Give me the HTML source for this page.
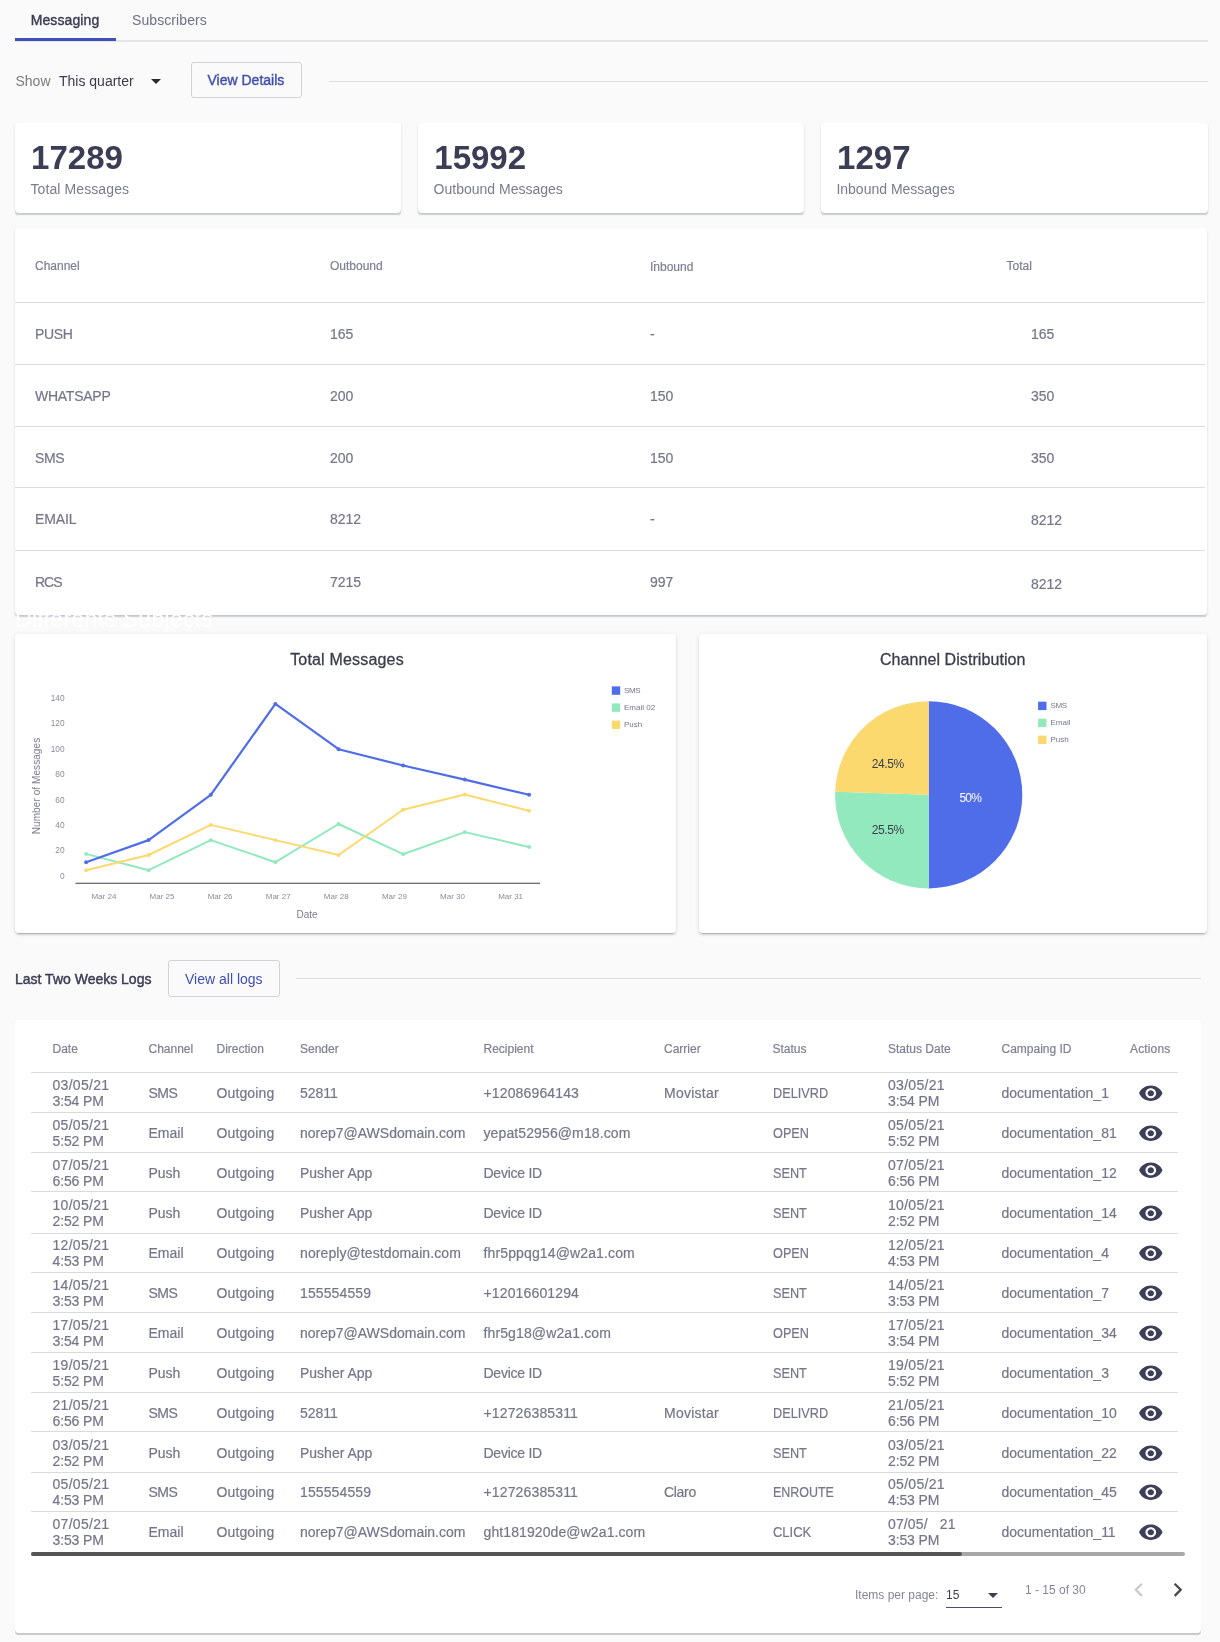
<!DOCTYPE html>
<html><head><meta charset="utf-8"><title>Messaging</title>
<style>
*{box-sizing:border-box;margin:0;padding:0}
html,body{width:1220px;height:1642px;overflow:hidden;background:#fafafa}
#root{position:absolute;left:0;top:0;width:1220px;height:1642px;will-change:transform}
body{font-family:"Liberation Sans",sans-serif;position:relative;color:#3b3d4c}
.t{position:absolute;white-space:nowrap;line-height:20px;margin-top:-10px;font-size:14px}
.hl{position:absolute}
.tab{font-size:14px;color:#6e7086;letter-spacing:-0.1px}
.tab.on{color:#3a3c55;-webkit-text-stroke:0.4px #3a3c55;letter-spacing:0}
.f14{font-size:14px}
.gray{color:#7b7b80}
.gray2{color:#797b8f}
.dark{color:#3a3c4e}
.tri{position:absolute;width:0;height:0;border-left:5px solid transparent;border-right:5px solid transparent;border-top:5px solid #2a2a2a}
.btn{position:absolute;background:transparent;border:1px solid #d2d2d6;border-radius:3px}
.btxt{font-size:14px;color:#3f4fb0;-webkit-text-stroke:0.4px #3f4fb0}
.card{position:absolute;background:#fff;border-radius:4px;box-shadow:0 1.6px 1.2px -0.4px rgba(60,66,90,.21),0 1px 3px 0 rgba(0,0,0,.09)}
.big{font-size:33px;font-weight:bold;color:#3b3d55;line-height:36px;margin-top:-18px;letter-spacing:0}
.th{font-size:12px;color:#7d7f93;-webkit-text-stroke:0.2px #7d7f93}
.td{font-size:14px;color:#74768a;-webkit-text-stroke:0.2px #74768a}

.ctitle{font-size:16px;color:#3b3d4c;-webkit-text-stroke:0.3px #3b3d4c}
.ax{font-size:8.3px;color:#8a8b9c;line-height:10px;margin-top:-5px}
.axt{font-size:10px;color:#7b7d91;line-height:12px;margin-top:-6px}
.lg{font-size:8px;color:#74768a;line-height:10px;margin-top:-5px}
.pl{font-size:12px;color:#3b3d4c;line-height:14px;margin-top:-7px}

.sect{font-size:14px;color:#3b3d55;-webkit-text-stroke:0.45px #3b3d55}
.btxt2{font-size:14px;color:#3f4fb5}
.card2{position:absolute;background:#fff;border-radius:4px;box-shadow:0 1.8px 0.8px -0.2px rgba(0,0,0,.2)}
.ld{font-size:14px;color:#74768a;-webkit-text-stroke:0.2px #74768a;line-height:16px;margin-top:-8px}
.pg{font-size:12px;color:#85869a;line-height:14px;margin-top:-7px}

.z2{box-shadow:0 3px 1px -2px rgba(0,0,0,.16),0 2px 2px 0 rgba(0,0,0,.11),0 1px 5px 0 rgba(0,0,0,.10)}

.axx{font-size:8px}

.ghost{position:absolute;color:#fff;white-space:nowrap;line-height:30px;letter-spacing:0.3px}
</style></head>
<body>
<div id="root">
<div class="hl" style="left:15px;top:40px;width:1193px;height:1.8px;background:#e5e5e5"></div>
<div class="hl" style="left:14.5px;top:38.4px;width:101.3px;height:2.6px;background:#4051b5"></div>
<div class="t tab on" style="left:30.7px;top:20.1px;letter-spacing:0.111px;">Messaging</div>
<div class="t tab" style="left:132px;top:20.1px;letter-spacing:0.091px;">Subscribers</div>
<div class="t f14 gray" style="left:15.5px;top:81px;">Show</div>
<div class="t f14 dark" style="left:59px;top:81px;">This quarter</div>
<div class="tri" style="left:150.5px;top:79px"></div>
<div class="btn" style="left:190.8px;top:61.7px;width:111px;height:36px"></div>
<div class="t btxt" style="left:207.5px;top:80px;">View Details</div>
<div class="hl" style="left:329px;top:80.8px;width:879px;height:1.2px;background:#dddddd"></div>
<div class="card" style="left:14.5px;top:123px;width:386.7px;height:90px"></div>
<div class="t big" style="left:31.1px;top:157.5px;">17289</div>
<div class="t f14 gray2" style="left:30.4px;top:189.1px;letter-spacing:0.107px;">Total Messages</div>
<div class="card" style="left:417.7px;top:123px;width:386.7px;height:90px"></div>
<div class="t big" style="left:434.3px;top:157.5px;">15992</div>
<div class="t f14 gray2" style="left:433.59999999999997px;top:189.1px;">Outbound Messages</div>
<div class="card" style="left:820.5px;top:123px;width:387px;height:90px"></div>
<div class="t big" style="left:837.1px;top:157.5px;">1297</div>
<div class="t f14 gray2" style="left:836.4px;top:189.1px;">Inbound Messages</div>
<div class="card" style="left:14.5px;top:227.6px;width:1192.7px;height:387px"></div>
<div class="t th" style="left:35px;top:265.5px;">Channel</div>
<div class="t th" style="left:330px;top:265.5px;">Outbound</div>
<div class="t th" style="left:650px;top:266.5px;">Inbound</div>
<div class="t th" style="left:1006.5px;top:265.5px;">Total</div>
<div class="hl" style="left:15px;top:301.9px;width:1189.5px;height:1px;background:#dcdcde"></div>
<div class="hl" style="left:15px;top:364.0px;width:1189.5px;height:1px;background:#dcdcde"></div>
<div class="hl" style="left:15px;top:426.1px;width:1189.5px;height:1px;background:#dcdcde"></div>
<div class="hl" style="left:15px;top:487.0px;width:1189.5px;height:1px;background:#dcdcde"></div>
<div class="hl" style="left:15px;top:550.2px;width:1189.5px;height:1px;background:#dcdcde"></div>
<div class="t td" style="left:35px;top:334.4px;letter-spacing:-0.350px;">PUSH</div>
<div class="t td" style="left:330px;top:334.4px;">165</div>
<div class="t td" style="left:650px;top:334.4px;">-</div>
<div class="t td" style="left:1031px;top:334.4px;">165</div>
<div class="t td" style="left:35px;top:396.4px;letter-spacing:-0.250px;">WHATSAPP</div>
<div class="t td" style="left:330px;top:396.4px;">200</div>
<div class="t td" style="left:650px;top:396.4px;">150</div>
<div class="t td" style="left:1031px;top:396.4px;">350</div>
<div class="t td" style="left:35px;top:457.9px;letter-spacing:-0.333px;">SMS</div>
<div class="t td" style="left:330px;top:457.9px;">200</div>
<div class="t td" style="left:650px;top:457.9px;">150</div>
<div class="t td" style="left:1031px;top:457.9px;">350</div>
<div class="t td" style="left:35px;top:518.8px;letter-spacing:-0.120px;">EMAIL</div>
<div class="t td" style="left:330px;top:518.8px;">8212</div>
<div class="t td" style="left:650px;top:518.8px;">-</div>
<div class="t td" style="left:1031px;top:520.3px;">8212</div>
<div class="t td" style="left:35px;top:582.2px;letter-spacing:-1.000px;">RCS</div>
<div class="t td" style="left:330px;top:582.2px;">7215</div>
<div class="t td" style="left:650px;top:582.2px;">997</div>
<div class="t td" style="left:1031px;top:583.7px;">8212</div>
<div class="ghost" style="left:15px;top:604px;font-size:23px">Differents Subjects</div>
<div class="hl" style="left:652.6px;top:261.2px;width:3.6px;height:0.7px;background:#9a9bac"></div>
<div class="card z2" style="left:14.6px;top:634px;width:661.4px;height:299px"></div>
<div class="t ctitle" style="left:347px;top:660.3px;letter-spacing:0.179px;transform:translateX(-50%);">Total Messages</div>
<div class="card z2" style="left:698.6px;top:634px;width:508.8px;height:299px"></div>
<div class="t ctitle" style="left:952.7px;top:660.3px;letter-spacing:0.075px;transform:translateX(-50%);">Channel Distribution</div>
<svg class="svg" width="1220" height="1642" viewBox="0 0 1220 1642" style="position:absolute;left:0;top:0">
<polyline points="86.1,853.9 148.6,870.2 210.8,840.1 275.4,862.2 338.6,824.0 403.1,854.2 464.8,832.1 529.1,847.0" fill="none" stroke="#91e9bd" stroke-width="2.0" stroke-linejoin="round" stroke-linecap="round"/>
<circle cx="86.1" cy="853.9" r="1.9" fill="#91e9bd"/>
<circle cx="148.6" cy="870.2" r="1.9" fill="#91e9bd"/>
<circle cx="210.8" cy="840.1" r="1.9" fill="#91e9bd"/>
<circle cx="275.4" cy="862.2" r="1.9" fill="#91e9bd"/>
<circle cx="338.6" cy="824.0" r="1.9" fill="#91e9bd"/>
<circle cx="403.1" cy="854.2" r="1.9" fill="#91e9bd"/>
<circle cx="464.8" cy="832.1" r="1.9" fill="#91e9bd"/>
<circle cx="529.1" cy="847.0" r="1.9" fill="#91e9bd"/>
<polyline points="86.1,870.2 148.6,855.0 210.8,824.9 275.4,840.1 338.6,855.0 403.1,809.7 464.8,794.5 529.1,810.8" fill="none" stroke="#fbd96f" stroke-width="2.0" stroke-linejoin="round" stroke-linecap="round"/>
<circle cx="86.1" cy="870.2" r="1.9" fill="#fbd96f"/>
<circle cx="148.6" cy="855.0" r="1.9" fill="#fbd96f"/>
<circle cx="210.8" cy="824.9" r="1.9" fill="#fbd96f"/>
<circle cx="275.4" cy="840.1" r="1.9" fill="#fbd96f"/>
<circle cx="338.6" cy="855.0" r="1.9" fill="#fbd96f"/>
<circle cx="403.1" cy="809.7" r="1.9" fill="#fbd96f"/>
<circle cx="464.8" cy="794.5" r="1.9" fill="#fbd96f"/>
<circle cx="529.1" cy="810.8" r="1.9" fill="#fbd96f"/>
<polyline points="86.1,862.2 148.6,840.1 210.8,794.8 275.4,703.9 338.6,749.2 403.1,765.5 464.8,779.6 529.1,794.8" fill="none" stroke="#4f6de8" stroke-width="2.2" stroke-linejoin="round" stroke-linecap="round"/>
<circle cx="86.1" cy="862.2" r="2.0" fill="#4f6de8"/>
<circle cx="148.6" cy="840.1" r="2.0" fill="#4f6de8"/>
<circle cx="210.8" cy="794.8" r="2.0" fill="#4f6de8"/>
<circle cx="275.4" cy="703.9" r="2.0" fill="#4f6de8"/>
<circle cx="338.6" cy="749.2" r="2.0" fill="#4f6de8"/>
<circle cx="403.1" cy="765.5" r="2.0" fill="#4f6de8"/>
<circle cx="464.8" cy="779.6" r="2.0" fill="#4f6de8"/>
<circle cx="529.1" cy="794.8" r="2.0" fill="#4f6de8"/>
<line x1="75.5" y1="883.3" x2="540" y2="883.3" stroke="#3b3d55" stroke-width="1.1"/>
<rect x="611.8" y="686.4" width="8.4" height="8.4" fill="#4f6de8"/>
<rect x="611.8" y="703.4" width="8.4" height="8.4" fill="#91e9bd"/>
<rect x="611.8" y="720.5999999999999" width="8.4" height="8.4" fill="#fbd96f"/>
<path d="M928.7,794.8 L928.70,701.20 A93.6,93.6 0 0 1 928.70,888.40 Z" fill="#4f6de8"/>
<path d="M928.7,794.8 L928.70,888.40 A93.6,93.6 0 0 1 835.15,791.86 Z" fill="#91e9bd"/>
<path d="M928.7,794.8 L835.15,791.86 A93.6,93.6 0 0 1 928.70,701.20 Z" fill="#fbd96f"/>
<rect x="1038.1" y="701.6999999999999" width="8.4" height="8.4" fill="#4f6de8"/>
<rect x="1038.1" y="718.6999999999999" width="8.4" height="8.4" fill="#91e9bd"/>
<rect x="1038.1" y="735.5999999999999" width="8.4" height="8.4" fill="#fbd96f"/>
</svg>
<div class="t ax" style="left:0px;top:697.7px;width:64.5px;text-align:right;">140</div>
<div class="t ax" style="left:0px;top:723.1571428571428px;width:64.5px;text-align:right;">120</div>
<div class="t ax" style="left:0px;top:748.6142857142858px;width:64.5px;text-align:right;">100</div>
<div class="t ax" style="left:0px;top:774.0714285714286px;width:64.5px;text-align:right;">80</div>
<div class="t ax" style="left:0px;top:799.5285714285715px;width:64.5px;text-align:right;">60</div>
<div class="t ax" style="left:0px;top:824.9857142857143px;width:64.5px;text-align:right;">40</div>
<div class="t ax" style="left:0px;top:850.4428571428571px;width:64.5px;text-align:right;">20</div>
<div class="t ax" style="left:0px;top:875.9px;width:64.5px;text-align:right;">0</div>
<div class="t ax axx" style="left:103.9px;top:896.8px;transform:translateX(-50%);">Mar 24</div>
<div class="t ax axx" style="left:162.0px;top:896.8px;transform:translateX(-50%);">Mar 25</div>
<div class="t ax axx" style="left:220.10000000000002px;top:896.8px;transform:translateX(-50%);">Mar 26</div>
<div class="t ax axx" style="left:278.20000000000005px;top:896.8px;transform:translateX(-50%);">Mar 27</div>
<div class="t ax axx" style="left:336.3px;top:896.8px;transform:translateX(-50%);">Mar 28</div>
<div class="t ax axx" style="left:394.4px;top:896.8px;transform:translateX(-50%);">Mar 29</div>
<div class="t ax axx" style="left:452.5px;top:896.8px;transform:translateX(-50%);">Mar 30</div>
<div class="t ax axx" style="left:510.6px;top:896.8px;transform:translateX(-50%);">Mar 31</div>
<div class="t axt" style="left:307px;top:914.7px;transform:translateX(-50%);">Date</div>
<div class="t axt" style="left:36.5px;top:786px;letter-spacing:0.078px;transform:translate(-50%,0) rotate(-90deg);">Number of Messages</div>
<div class="t lg" style="left:624px;top:690.6px;letter-spacing:-0.333px;">SMS</div>
<div class="t lg" style="left:624px;top:707.6px;">Email 02</div>
<div class="t lg" style="left:624px;top:724.8px;">Push</div>
<div class="t lg" style="left:1050.5px;top:705.9px;letter-spacing:-0.333px;">SMS</div>
<div class="t lg" style="left:1050.5px;top:722.9px;">Email</div>
<div class="t lg" style="left:1050.5px;top:739.8px;">Push</div>
<div class="t pl" style="left:887.8px;top:764px;letter-spacing:-0.420px;transform:translateX(-50%);">24.5%</div>
<div class="t pl" style="left:887.8px;top:830px;letter-spacing:-0.420px;transform:translateX(-50%);">25.5%</div>
<div class="t pl" style="left:970.3px;top:798px;letter-spacing:-0.800px;transform:translateX(-50%);color:#fff;">50%</div>
<div class="t sect" style="left:15px;top:978.5px;">Last Two Weeks Logs</div>
<div class="btn" style="left:168.3px;top:960.4px;width:111.4px;height:36.2px"></div>
<div class="t btxt2" style="left:185px;top:978.5px;">View all logs</div>
<div class="hl" style="left:296px;top:978px;width:905px;height:1px;background:#dcdcdc"></div>
<div class="card2" style="left:15px;top:1020px;width:1186px;height:613px"></div>
<div class="t th" style="left:52.5px;top:1048.5px;">Date</div>
<div class="t th" style="left:148.5px;top:1048.5px;">Channel</div>
<div class="t th" style="left:216.5px;top:1048.5px;">Direction</div>
<div class="t th" style="left:300px;top:1048.5px;">Sender</div>
<div class="t th" style="left:483.5px;top:1048.5px;">Recipient</div>
<div class="t th" style="left:664px;top:1048.5px;">Carrier</div>
<div class="t th" style="left:772.5px;top:1048.5px;">Status</div>
<div class="t th" style="left:888px;top:1048.5px;">Status Date</div>
<div class="t th" style="left:1001.5px;top:1048.5px;">Campaing ID</div>
<div class="t th" style="left:1130px;top:1048.5px;letter-spacing:0.143px;">Actions</div>
<div class="hl" style="left:31px;top:1071.9px;width:1147px;height:1px;background:#dadada"></div>
<div class="hl" style="left:31px;top:1111.8px;width:1147px;height:1px;background:#dadada"></div>
<div class="hl" style="left:31px;top:1152.1px;width:1147px;height:1px;background:#dadada"></div>
<div class="hl" style="left:31px;top:1191.3px;width:1147px;height:1px;background:#dadada"></div>
<div class="hl" style="left:31px;top:1232.9px;width:1147px;height:1px;background:#dadada"></div>
<div class="hl" style="left:31px;top:1272.2px;width:1147px;height:1px;background:#dadada"></div>
<div class="hl" style="left:31px;top:1311.7px;width:1147px;height:1px;background:#dadada"></div>
<div class="hl" style="left:31px;top:1351.8px;width:1147px;height:1px;background:#dadada"></div>
<div class="hl" style="left:31px;top:1392.1px;width:1147px;height:1px;background:#dadada"></div>
<div class="hl" style="left:31px;top:1431.4px;width:1147px;height:1px;background:#dadada"></div>
<div class="hl" style="left:31px;top:1471.8px;width:1147px;height:1px;background:#dadada"></div>
<div class="hl" style="left:31px;top:1510.9px;width:1147px;height:1px;background:#dadada"></div>
<div class="t ld" style="left:52.5px;top:1085.1px;letter-spacing:0.287px;">03/05/21</div>
<div class="t ld" style="left:52.5px;top:1101.1px;letter-spacing:-0.129px;">3:54 PM</div>
<div class="t ld" style="left:148.5px;top:1093.1px;letter-spacing:-0.500px;">SMS</div>
<div class="t ld" style="left:216.5px;top:1093.1px;letter-spacing:0.125px;">Outgoing</div>
<div class="t ld" style="left:300px;top:1093.1px;">52811</div>
<div class="t ld" style="left:483.5px;top:1093.1px;letter-spacing:0.142px;">+12086964143</div>
<div class="t ld" style="left:664px;top:1093.1px;letter-spacing:0.250px;">Movistar</div>
<div class="t ld" style="left:772.5px;top:1093.1px;transform:scaleX(0.908);transform-origin:0 50%;">DELIVRD</div>
<div class="t ld" style="left:888px;top:1085.1px;letter-spacing:0.287px;">03/05/21</div>
<div class="t ld" style="left:888px;top:1101.1px;letter-spacing:-0.129px;">3:54 PM</div>
<div class="t ld" style="left:1001.5px;top:1093.1px;">documentation_1</div>
<svg style="position:absolute;left:1138.2px;top:1080.85px" width="25.6" height="24.5" viewBox="0 0 24 24" preserveAspectRatio="none"><path fill="#3d3f58" d="M12 4.5C7 4.5 2.73 7.61 1 12c1.73 4.39 6 7.500 11 7.500s9.270-3.110 11-7.500c-1.730-4.390-6-7.500-11-7.500zM12 17c-2.760 0-5-2.240-5-5s2.240-5 5-5 5 2.240 5 5-2.240 5-5 5zm0-8c-1.660 0-3 1.340-3 3s1.340 3 3 3 3-1.340 3-3-1.340-3-3-3z"/></svg>
<div class="t ld" style="left:52.5px;top:1125.1px;letter-spacing:0.287px;">05/05/21</div>
<div class="t ld" style="left:52.5px;top:1141.1px;letter-spacing:-0.129px;">5:52 PM</div>
<div class="t ld" style="left:148.5px;top:1133.1px;">Email</div>
<div class="t ld" style="left:216.5px;top:1133.1px;letter-spacing:0.125px;">Outgoing</div>
<div class="t ld" style="left:300px;top:1133.1px;">norep7@AWSdomain.com</div>
<div class="t ld" style="left:483.5px;top:1133.1px;letter-spacing:0.111px;">yepat52956@m18.com</div>
<div class="t ld" style="left:772.5px;top:1133.1px;transform:scaleX(0.907);transform-origin:0 50%;">OPEN</div>
<div class="t ld" style="left:888px;top:1125.1px;letter-spacing:0.287px;">05/05/21</div>
<div class="t ld" style="left:888px;top:1141.1px;letter-spacing:-0.129px;">5:52 PM</div>
<div class="t ld" style="left:1001.5px;top:1133.1px;">documentation_81</div>
<svg style="position:absolute;left:1138.2px;top:1120.85px" width="25.6" height="24.5" viewBox="0 0 24 24" preserveAspectRatio="none"><path fill="#3d3f58" d="M12 4.5C7 4.5 2.73 7.61 1 12c1.73 4.39 6 7.500 11 7.500s9.270-3.110 11-7.500c-1.730-4.390-6-7.500-11-7.500zM12 17c-2.760 0-5-2.240-5-5s2.240-5 5-5 5 2.240 5 5-2.240 5-5 5zm0-8c-1.660 0-3 1.340-3 3s1.340 3 3 3 3-1.340 3-3-1.340-3-3-3z"/></svg>
<div class="t ld" style="left:52.5px;top:1165.1px;letter-spacing:0.287px;">07/05/21</div>
<div class="t ld" style="left:52.5px;top:1181.1px;letter-spacing:-0.129px;">6:56 PM</div>
<div class="t ld" style="left:148.5px;top:1173.1px;">Push</div>
<div class="t ld" style="left:216.5px;top:1173.1px;letter-spacing:0.125px;">Outgoing</div>
<div class="t ld" style="left:300px;top:1173.1px;">Pusher App</div>
<div class="t ld" style="left:483.5px;top:1173.1px;letter-spacing:-0.256px;">Device ID</div>
<div class="t ld" style="left:772.5px;top:1173.1px;transform:scaleX(0.906);transform-origin:0 50%;">SENT</div>
<div class="t ld" style="left:888px;top:1165.1px;letter-spacing:0.287px;">07/05/21</div>
<div class="t ld" style="left:888px;top:1181.1px;letter-spacing:-0.129px;">6:56 PM</div>
<div class="t ld" style="left:1001.5px;top:1173.1px;">documentation_12</div>
<svg style="position:absolute;left:1138.2px;top:1158.35px" width="25.6" height="24.5" viewBox="0 0 24 24" preserveAspectRatio="none"><path fill="#3d3f58" d="M12 4.5C7 4.5 2.73 7.61 1 12c1.73 4.39 6 7.500 11 7.500s9.270-3.110 11-7.500c-1.730-4.390-6-7.500-11-7.500zM12 17c-2.760 0-5-2.240-5-5s2.240-5 5-5 5 2.240 5 5-2.240 5-5 5zm0-8c-1.660 0-3 1.340-3 3s1.340 3 3 3 3-1.340 3-3-1.340-3-3-3z"/></svg>
<div class="t ld" style="left:52.5px;top:1205.1px;letter-spacing:0.287px;">10/05/21</div>
<div class="t ld" style="left:52.5px;top:1221.1px;letter-spacing:-0.129px;">2:52 PM</div>
<div class="t ld" style="left:148.5px;top:1213.1px;">Push</div>
<div class="t ld" style="left:216.5px;top:1213.1px;letter-spacing:0.125px;">Outgoing</div>
<div class="t ld" style="left:300px;top:1213.1px;">Pusher App</div>
<div class="t ld" style="left:483.5px;top:1213.1px;letter-spacing:-0.256px;">Device ID</div>
<div class="t ld" style="left:772.5px;top:1213.1px;transform:scaleX(0.906);transform-origin:0 50%;">SENT</div>
<div class="t ld" style="left:888px;top:1205.1px;letter-spacing:0.287px;">10/05/21</div>
<div class="t ld" style="left:888px;top:1221.1px;letter-spacing:-0.129px;">2:52 PM</div>
<div class="t ld" style="left:1001.5px;top:1213.1px;">documentation_14</div>
<svg style="position:absolute;left:1138.2px;top:1200.85px" width="25.6" height="24.5" viewBox="0 0 24 24" preserveAspectRatio="none"><path fill="#3d3f58" d="M12 4.5C7 4.5 2.73 7.61 1 12c1.73 4.39 6 7.500 11 7.500s9.270-3.110 11-7.500c-1.730-4.390-6-7.500-11-7.500zM12 17c-2.760 0-5-2.240-5-5s2.240-5 5-5 5 2.240 5 5-2.240 5-5 5zm0-8c-1.660 0-3 1.340-3 3s1.340 3 3 3 3-1.340 3-3-1.340-3-3-3z"/></svg>
<div class="t ld" style="left:52.5px;top:1245.1px;letter-spacing:0.287px;">12/05/21</div>
<div class="t ld" style="left:52.5px;top:1261.1px;letter-spacing:-0.129px;">4:53 PM</div>
<div class="t ld" style="left:148.5px;top:1253.1px;">Email</div>
<div class="t ld" style="left:216.5px;top:1253.1px;letter-spacing:0.125px;">Outgoing</div>
<div class="t ld" style="left:300px;top:1253.1px;letter-spacing:0.091px;">noreply@testdomain.com</div>
<div class="t ld" style="left:483.5px;top:1253.1px;letter-spacing:0.132px;">fhr5ppqg14@w2a1.com</div>
<div class="t ld" style="left:772.5px;top:1253.1px;transform:scaleX(0.907);transform-origin:0 50%;">OPEN</div>
<div class="t ld" style="left:888px;top:1245.1px;letter-spacing:0.287px;">12/05/21</div>
<div class="t ld" style="left:888px;top:1261.1px;letter-spacing:-0.129px;">4:53 PM</div>
<div class="t ld" style="left:1001.5px;top:1253.1px;">documentation_4</div>
<svg style="position:absolute;left:1138.2px;top:1240.85px" width="25.6" height="24.5" viewBox="0 0 24 24" preserveAspectRatio="none"><path fill="#3d3f58" d="M12 4.5C7 4.5 2.73 7.61 1 12c1.73 4.39 6 7.500 11 7.500s9.270-3.110 11-7.500c-1.730-4.390-6-7.500-11-7.500zM12 17c-2.760 0-5-2.240-5-5s2.240-5 5-5 5 2.240 5 5-2.240 5-5 5zm0-8c-1.660 0-3 1.340-3 3s1.340 3 3 3 3-1.340 3-3-1.340-3-3-3z"/></svg>
<div class="t ld" style="left:52.5px;top:1285.1px;letter-spacing:0.287px;">14/05/21</div>
<div class="t ld" style="left:52.5px;top:1301.1px;letter-spacing:-0.129px;">3:53 PM</div>
<div class="t ld" style="left:148.5px;top:1293.1px;letter-spacing:-0.500px;">SMS</div>
<div class="t ld" style="left:216.5px;top:1293.1px;letter-spacing:0.125px;">Outgoing</div>
<div class="t ld" style="left:300px;top:1293.1px;letter-spacing:0.111px;">155554559</div>
<div class="t ld" style="left:483.5px;top:1293.1px;letter-spacing:0.142px;">+12016601294</div>
<div class="t ld" style="left:772.5px;top:1293.1px;transform:scaleX(0.906);transform-origin:0 50%;">SENT</div>
<div class="t ld" style="left:888px;top:1285.1px;letter-spacing:0.287px;">14/05/21</div>
<div class="t ld" style="left:888px;top:1301.1px;letter-spacing:-0.129px;">3:53 PM</div>
<div class="t ld" style="left:1001.5px;top:1293.1px;">documentation_7</div>
<svg style="position:absolute;left:1138.2px;top:1280.85px" width="25.6" height="24.5" viewBox="0 0 24 24" preserveAspectRatio="none"><path fill="#3d3f58" d="M12 4.5C7 4.5 2.73 7.61 1 12c1.73 4.39 6 7.500 11 7.500s9.270-3.110 11-7.500c-1.730-4.390-6-7.500-11-7.500zM12 17c-2.760 0-5-2.240-5-5s2.240-5 5-5 5 2.240 5 5-2.240 5-5 5zm0-8c-1.660 0-3 1.340-3 3s1.340 3 3 3 3-1.340 3-3-1.340-3-3-3z"/></svg>
<div class="t ld" style="left:52.5px;top:1325.1px;letter-spacing:0.287px;">17/05/21</div>
<div class="t ld" style="left:52.5px;top:1341.1px;letter-spacing:-0.129px;">3:54 PM</div>
<div class="t ld" style="left:148.5px;top:1333.1px;">Email</div>
<div class="t ld" style="left:216.5px;top:1333.1px;letter-spacing:0.125px;">Outgoing</div>
<div class="t ld" style="left:300px;top:1333.1px;">norep7@AWSdomain.com</div>
<div class="t ld" style="left:483.5px;top:1333.1px;letter-spacing:0.125px;">fhr5g18@w2a1.com</div>
<div class="t ld" style="left:772.5px;top:1333.1px;transform:scaleX(0.907);transform-origin:0 50%;">OPEN</div>
<div class="t ld" style="left:888px;top:1325.1px;letter-spacing:0.287px;">17/05/21</div>
<div class="t ld" style="left:888px;top:1341.1px;letter-spacing:-0.129px;">3:54 PM</div>
<div class="t ld" style="left:1001.5px;top:1333.1px;">documentation_34</div>
<svg style="position:absolute;left:1138.2px;top:1320.85px" width="25.6" height="24.5" viewBox="0 0 24 24" preserveAspectRatio="none"><path fill="#3d3f58" d="M12 4.5C7 4.5 2.73 7.61 1 12c1.73 4.39 6 7.500 11 7.500s9.270-3.110 11-7.500c-1.730-4.390-6-7.500-11-7.500zM12 17c-2.760 0-5-2.240-5-5s2.240-5 5-5 5 2.240 5 5-2.240 5-5 5zm0-8c-1.660 0-3 1.340-3 3s1.340 3 3 3 3-1.340 3-3-1.340-3-3-3z"/></svg>
<div class="t ld" style="left:52.5px;top:1365.1px;letter-spacing:0.287px;">19/05/21</div>
<div class="t ld" style="left:52.5px;top:1381.1px;letter-spacing:-0.129px;">5:52 PM</div>
<div class="t ld" style="left:148.5px;top:1373.1px;">Push</div>
<div class="t ld" style="left:216.5px;top:1373.1px;letter-spacing:0.125px;">Outgoing</div>
<div class="t ld" style="left:300px;top:1373.1px;">Pusher App</div>
<div class="t ld" style="left:483.5px;top:1373.1px;letter-spacing:-0.256px;">Device ID</div>
<div class="t ld" style="left:772.5px;top:1373.1px;transform:scaleX(0.906);transform-origin:0 50%;">SENT</div>
<div class="t ld" style="left:888px;top:1365.1px;letter-spacing:0.287px;">19/05/21</div>
<div class="t ld" style="left:888px;top:1381.1px;letter-spacing:-0.129px;">5:52 PM</div>
<div class="t ld" style="left:1001.5px;top:1373.1px;">documentation_3</div>
<svg style="position:absolute;left:1138.2px;top:1360.85px" width="25.6" height="24.5" viewBox="0 0 24 24" preserveAspectRatio="none"><path fill="#3d3f58" d="M12 4.5C7 4.5 2.73 7.61 1 12c1.73 4.39 6 7.500 11 7.500s9.270-3.110 11-7.500c-1.730-4.390-6-7.500-11-7.500zM12 17c-2.760 0-5-2.240-5-5s2.240-5 5-5 5 2.240 5 5-2.240 5-5 5zm0-8c-1.660 0-3 1.340-3 3s1.340 3 3 3 3-1.340 3-3-1.340-3-3-3z"/></svg>
<div class="t ld" style="left:52.5px;top:1405.1px;letter-spacing:0.287px;">21/05/21</div>
<div class="t ld" style="left:52.5px;top:1421.1px;letter-spacing:-0.129px;">6:56 PM</div>
<div class="t ld" style="left:148.5px;top:1413.1px;letter-spacing:-0.500px;">SMS</div>
<div class="t ld" style="left:216.5px;top:1413.1px;letter-spacing:0.125px;">Outgoing</div>
<div class="t ld" style="left:300px;top:1413.1px;">52811</div>
<div class="t ld" style="left:483.5px;top:1413.1px;letter-spacing:0.142px;">+12726385311</div>
<div class="t ld" style="left:664px;top:1413.1px;letter-spacing:0.250px;">Movistar</div>
<div class="t ld" style="left:772.5px;top:1413.1px;transform:scaleX(0.908);transform-origin:0 50%;">DELIVRD</div>
<div class="t ld" style="left:888px;top:1405.1px;letter-spacing:0.287px;">21/05/21</div>
<div class="t ld" style="left:888px;top:1421.1px;letter-spacing:-0.129px;">6:56 PM</div>
<div class="t ld" style="left:1001.5px;top:1413.1px;">documentation_10</div>
<svg style="position:absolute;left:1138.2px;top:1400.85px" width="25.6" height="24.5" viewBox="0 0 24 24" preserveAspectRatio="none"><path fill="#3d3f58" d="M12 4.5C7 4.5 2.73 7.61 1 12c1.73 4.39 6 7.500 11 7.500s9.270-3.110 11-7.500c-1.730-4.390-6-7.500-11-7.500zM12 17c-2.760 0-5-2.240-5-5s2.240-5 5-5 5 2.240 5 5-2.240 5-5 5zm0-8c-1.660 0-3 1.340-3 3s1.340 3 3 3 3-1.340 3-3-1.340-3-3-3z"/></svg>
<div class="t ld" style="left:52.5px;top:1445.1px;letter-spacing:0.287px;">03/05/21</div>
<div class="t ld" style="left:52.5px;top:1461.1px;letter-spacing:-0.129px;">2:52 PM</div>
<div class="t ld" style="left:148.5px;top:1453.1px;">Push</div>
<div class="t ld" style="left:216.5px;top:1453.1px;letter-spacing:0.125px;">Outgoing</div>
<div class="t ld" style="left:300px;top:1453.1px;">Pusher App</div>
<div class="t ld" style="left:483.5px;top:1453.1px;letter-spacing:-0.256px;">Device ID</div>
<div class="t ld" style="left:772.5px;top:1453.1px;transform:scaleX(0.906);transform-origin:0 50%;">SENT</div>
<div class="t ld" style="left:888px;top:1445.1px;letter-spacing:0.287px;">03/05/21</div>
<div class="t ld" style="left:888px;top:1461.1px;letter-spacing:-0.129px;">2:52 PM</div>
<div class="t ld" style="left:1001.5px;top:1453.1px;">documentation_22</div>
<svg style="position:absolute;left:1138.2px;top:1440.85px" width="25.6" height="24.5" viewBox="0 0 24 24" preserveAspectRatio="none"><path fill="#3d3f58" d="M12 4.5C7 4.5 2.73 7.61 1 12c1.73 4.39 6 7.500 11 7.500s9.270-3.110 11-7.500c-1.730-4.390-6-7.500-11-7.500zM12 17c-2.760 0-5-2.240-5-5s2.240-5 5-5 5 2.240 5 5-2.240 5-5 5zm0-8c-1.660 0-3 1.340-3 3s1.340 3 3 3 3-1.340 3-3-1.340-3-3-3z"/></svg>
<div class="t ld" style="left:52.5px;top:1484.3px;letter-spacing:0.287px;">05/05/21</div>
<div class="t ld" style="left:52.5px;top:1500.3px;letter-spacing:-0.129px;">4:53 PM</div>
<div class="t ld" style="left:148.5px;top:1492.3px;letter-spacing:-0.500px;">SMS</div>
<div class="t ld" style="left:216.5px;top:1492.3px;letter-spacing:0.125px;">Outgoing</div>
<div class="t ld" style="left:300px;top:1492.3px;letter-spacing:0.111px;">155554559</div>
<div class="t ld" style="left:483.5px;top:1492.3px;letter-spacing:0.142px;">+12726385311</div>
<div class="t ld" style="left:664px;top:1492.3px;letter-spacing:-0.300px;">Claro</div>
<div class="t ld" style="left:772.5px;top:1492.3px;transform:scaleX(0.89);transform-origin:0 50%;">ENROUTE</div>
<div class="t ld" style="left:888px;top:1484.3px;letter-spacing:0.287px;">05/05/21</div>
<div class="t ld" style="left:888px;top:1500.3px;letter-spacing:-0.129px;">4:53 PM</div>
<div class="t ld" style="left:1001.5px;top:1492.3px;">documentation_45</div>
<svg style="position:absolute;left:1138.2px;top:1480.05px" width="25.6" height="24.5" viewBox="0 0 24 24" preserveAspectRatio="none"><path fill="#3d3f58" d="M12 4.5C7 4.5 2.73 7.61 1 12c1.73 4.39 6 7.500 11 7.500s9.270-3.110 11-7.500c-1.730-4.390-6-7.500-11-7.500zM12 17c-2.760 0-5-2.240-5-5s2.240-5 5-5 5 2.240 5 5-2.240 5-5 5zm0-8c-1.660 0-3 1.340-3 3s1.340 3 3 3 3-1.340 3-3-1.340-3-3-3z"/></svg>
<div class="t ld" style="left:52.5px;top:1524.3px;letter-spacing:0.287px;">07/05/21</div>
<div class="t ld" style="left:52.5px;top:1540.3px;letter-spacing:-0.129px;">3:53 PM</div>
<div class="t ld" style="left:148.5px;top:1532.3px;">Email</div>
<div class="t ld" style="left:216.5px;top:1532.3px;letter-spacing:0.125px;">Outgoing</div>
<div class="t ld" style="left:300px;top:1532.3px;">norep7@AWSdomain.com</div>
<div class="t ld" style="left:483.5px;top:1532.3px;letter-spacing:0.100px;">ght181920de@w2a1.com</div>
<div class="t ld" style="left:772.5px;top:1532.3px;transform:scaleX(0.927);transform-origin:0 50%;">CLICK</div>
<div class="t ld" style="left:888px;top:1524.3px;letter-spacing:0.136px;">07/05/&nbsp;&nbsp;&nbsp;21</div>
<div class="t ld" style="left:888px;top:1540.3px;letter-spacing:-0.129px;">3:53 PM</div>
<div class="t ld" style="left:1001.5px;top:1532.3px;">documentation_11</div>
<svg style="position:absolute;left:1138.2px;top:1520.05px" width="25.6" height="24.5" viewBox="0 0 24 24" preserveAspectRatio="none"><path fill="#3d3f58" d="M12 4.5C7 4.5 2.73 7.61 1 12c1.73 4.39 6 7.500 11 7.500s9.270-3.110 11-7.500c-1.730-4.390-6-7.500-11-7.500zM12 17c-2.760 0-5-2.240-5-5s2.240-5 5-5 5 2.240 5 5-2.240 5-5 5zm0-8c-1.660 0-3 1.340-3 3s1.340 3 3 3 3-1.340 3-3-1.340-3-3-3z"/></svg>
<div class="hl" style="left:31px;top:1551.5px;width:1154px;height:4px;background:#a8a8a8;border-radius:2px"></div>
<div class="hl" style="left:31px;top:1551.5px;width:931px;height:4px;background:#555;border-radius:2px"></div>
<div class="t pg" style="left:855px;top:1595px;">Items per page:</div>
<div class="t pg" style="left:946px;top:1595px;color:#3b3d55;">15</div>
<div class="tri" style="left:988px;top:1593px;border-top-color:#3b3d55"></div>
<div class="hl" style="left:945.5px;top:1607px;width:56px;height:1px;background:#4a4c66"></div>
<div class="t pg" style="left:1025px;top:1590px;">1 - 15 of 30</div>
<svg style="position:absolute;left:1124.6px;top:1576.4px" width="27.5" height="27.5" viewBox="0 0 24 24"><path d="M15.41 7.41L14 6l-6 6 6 6 1.410-1.410L10.830 12z" fill="#cbcbcb"/></svg>
<svg style="position:absolute;left:1163.75px;top:1576.4px" width="27.5" height="27.5" viewBox="0 0 24 24"><path d="M10 6L8.590 7.410 13.170 12l-4.580 4.590L10 18l6-6z" fill="#4a4a4a"/></svg>
</div>
</body></html>
